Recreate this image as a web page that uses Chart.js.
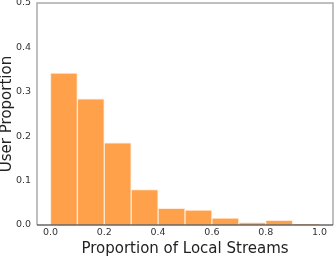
<!DOCTYPE html>
<html>
<head>
<meta charset="utf-8">
<script src="https://cdn.jsdelivr.net/npm/chart.js@4"></script>
<style>
  html, body { margin: 0; padding: 0; background: #fff; }
  #wrap { width: 336px; height: 257px; }
</style>
</head>
<body>
<div id="wrap"><canvas id="histChart"></canvas></div>
<script>
const binCenters = [0.05, 0.15, 0.25, 0.35, 0.45, 0.55, 0.65, 0.75, 0.85, 0.95];
const userProportion = [0.342, 0.284, 0.185, 0.0795, 0.0375, 0.0337, 0.0157, 0.0052, 0.0105, 0.0022];
const xTicks = [0.0, 0.2, 0.4, 0.6, 0.8, 1.0];
const yTicks = [0.0, 0.1, 0.2, 0.3, 0.4, 0.5];

const ctx = document.getElementById('histChart');

// matplotlib-like frame: light spines, darker bottom
const frame = {
    id: 'frame',
    afterDraw(chart) {
        const a = chart.chartArea;
        const c = chart.ctx;
        c.save();
        c.lineWidth = 1.5;
        c.strokeStyle = '#aaaaaa';
        c.beginPath();
        c.moveTo(a.left, a.bottom);
        c.lineTo(a.left, a.top);
        c.lineTo(a.right, a.top);
        c.lineTo(a.right, a.bottom);
        c.stroke();
        c.strokeStyle = '#666666';
        c.beginPath();
        c.moveTo(a.left, a.bottom);
        c.lineTo(a.right, a.bottom);
        c.stroke();
        c.restore();
    },
};

new Chart(ctx, {
    type: 'bar',
    data: {
        datasets: [
            {
                label: 'Users',
                data: binCenters.map((x, i) => ({ x: x, y: userProportion[i] })),
                backgroundColor: 'rgb(255, 160, 74)',
                borderColor: 'rgba(255, 235, 215, 1)',
                borderWidth: 1,
                borderSkipped: 'bottom',
                barPercentage: 1,
                categoryPercentage: 1,
            },
        ],
    },
    options: {
        responsive: true,
        maintainAspectRatio: false,
        animation: false,
        layout: { padding: { top: 3, right: 3, left: 0, bottom: 0 } },
        plugins: {
            legend: { display: false },
            tooltip: { enabled: false },
        },
        scales: {
            x: {
                type: 'linear',
                offset: false,
                min: -0.05,
                max: 1.05,
                afterBuildTicks: (axis) => { axis.ticks = xTicks.map(v => ({ value: v })); },
                afterFit: (axis) => { axis.height = 32; axis.paddingLeft = 0; axis.paddingRight = 0; },
                grid: { display: false, drawTicks: false },
                border: { display: false },
                ticks: {
                    padding: 2,
                    color: '#333333',
                    font: { family: 'DejaVu Sans', size: 9.5 },
                    callback: (v) => v.toFixed(1),
                },
                title: {
                    display: true,
                    text: 'Proportion of Local Streams',
                    color: '#222222',
                    font: { family: 'DejaVu Sans', size: 15, lineHeight: 1.1 },
                    padding: { top: 0, bottom: 0 },
                },
            },
            y: {
                min: 0,
                max: 0.5,
                afterBuildTicks: (axis) => { axis.ticks = yTicks.map(v => ({ value: v })); },
                afterFit: (axis) => { axis.width = 37; axis.paddingTop = 0; axis.paddingBottom = 0; },
                grid: { display: false, drawTicks: false },
                border: { display: false },
                ticks: {
                    padding: 6,
                    color: '#333333',
                    font: { family: 'DejaVu Sans', size: 9.5 },
                    callback: (v) => v.toFixed(1),
                },
                title: {
                    display: true,
                    text: 'User Proportion',
                    color: '#222222',
                    font: { family: 'DejaVu Sans', size: 15, lineHeight: 1.0 },
                    padding: { top: 0, bottom: 0 },
                },
            },
        },
    },
    plugins: [frame],
});
</script>
</body>
</html>
